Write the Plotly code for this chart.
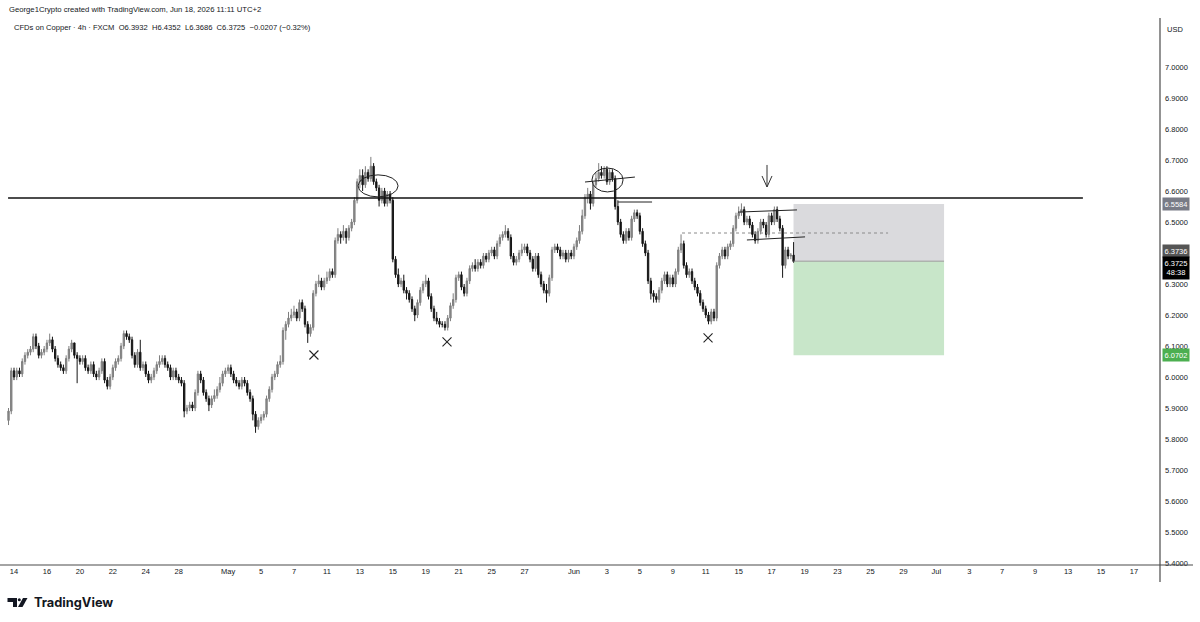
import plotly.graph_objects as go

# ---------------- data (4h candles, CFDs on Copper) ----------------
first_open = 5.86
close = [
    5.89, 6.02,
    6.00, 6.02, 6.01, 6.05, 6.07, 6.08,
    6.09, 6.13, 6.10, 6.07, 6.08, 6.09,
    6.11, 6.12, 6.09, 6.06, 6.04, 6.03,
    6.02, 6.06, 6.09, 6.11, 6.07, 6.06,
    6.05, 6.06, 6.03, 6.02, 6.04, 6.01,
    6.00, 6.02, 6.05, 5.99, 5.97, 6.00,
    6.03, 6.05, 6.06, 6.10, 6.14, 6.13,
    6.12, 6.07, 6.04, 6.08, 6.03, 6.04,
    6.01, 5.99, 6.00, 6.02, 6.04, 6.05,
    6.06, 6.04, 6.03, 6.00, 6.02, 6.00,
    5.99, 5.98, 5.89, 5.90, 5.91, 5.90,
    5.95, 6.01, 5.99, 5.95, 5.93, 5.91,
    5.93, 5.94, 5.96, 5.98, 6.01, 6.02,
    6.03, 6.01, 5.99, 5.98, 5.97, 5.99,
    5.98, 5.95, 5.93, 5.88, 5.84, 5.86,
    5.87, 5.88, 5.93, 5.96, 6.00, 6.01,
    6.04, 6.05, 6.15, 6.17, 6.19, 6.20,
    6.21, 6.19, 6.24, 6.22, 6.17, 6.14,
    6.16, 6.27, 6.30, 6.31, 6.29, 6.31,
    6.32, 6.34, 6.33, 6.44, 6.46, 6.45,
    6.47, 6.45, 6.48, 6.50, 6.57, 6.63,
    6.65, 6.62, 6.66, 6.64, 6.68, 6.63,
    6.61, 6.57, 6.60, 6.56, 6.59, 6.57,
    6.38, 6.33, 6.30, 6.31, 6.28, 6.27,
    6.25, 6.22, 6.20, 6.24, 6.28, 6.30,
    6.31, 6.26, 6.22, 6.19, 6.18, 6.17,
    6.17, 6.16, 6.19, 6.23, 6.25, 6.32,
    6.33, 6.29, 6.27, 6.31, 6.35, 6.36,
    6.35, 6.37, 6.36, 6.39, 6.38, 6.40,
    6.41, 6.39, 6.43, 6.45, 6.46, 6.47,
    6.45, 6.39, 6.37, 6.38, 6.40, 6.41,
    6.42, 6.40, 6.38, 6.35, 6.39, 6.33,
    6.30, 6.28, 6.27, 6.32, 6.41, 6.42,
    6.41, 6.39, 6.40, 6.38, 6.40, 6.39,
    6.42, 6.44, 6.47, 6.52, 6.58, 6.59,
    6.56, 6.62, 6.64, 6.66, 6.65, 6.67,
    6.63, 6.66, 6.64, 6.55, 6.50, 6.46,
    6.44, 6.47, 6.45, 6.51, 6.53, 6.52,
    6.47, 6.43, 6.40, 6.31, 6.27, 6.26,
    6.25, 6.28, 6.31, 6.33, 6.30, 6.32,
    6.30, 6.34, 6.41, 6.43, 6.36, 6.33,
    6.34, 6.31, 6.29, 6.27, 6.24, 6.22,
    6.20, 6.18, 6.21, 6.19, 6.36, 6.39,
    6.41, 6.39, 6.42, 6.43, 6.48, 6.52,
    6.53, 6.54, 6.50, 6.51, 6.49, 6.46,
    6.44, 6.47, 6.50, 6.49, 6.46, 6.52,
    6.50, 6.54, 6.51, 6.48, 6.36, 6.41,
    6.39, 6.3932, 6.3725,
]
high = [
    5.90, 6.03,
    6.03, 6.03, 6.03, 6.06, 6.08, 6.09,
    6.10, 6.14, 6.14, 6.11, 6.09, 6.10,
    6.12, 6.14, 6.13, 6.10, 6.07, 6.05,
    6.04, 6.07, 6.10, 6.12, 6.11, 6.08,
    6.07, 6.07, 6.07, 6.04, 6.05, 6.05,
    6.02, 6.03, 6.06, 6.06, 6.00, 6.01,
    6.04, 6.06, 6.07, 6.11, 6.15, 6.15,
    6.14, 6.13, 6.08, 6.09, 6.12, 6.05,
    6.05, 6.02, 6.01, 6.03, 6.05, 6.07,
    6.07, 6.07, 6.05, 6.04, 6.03, 6.03,
    6.01, 6.00, 5.99, 5.91, 5.92, 5.92,
    5.96, 6.02, 6.02, 6.00, 5.96, 5.94,
    5.94, 5.96, 5.97, 6.00, 6.02, 6.03,
    6.04, 6.04, 6.02, 6.00, 5.99, 6.00,
    6.00, 5.99, 5.96, 5.94, 5.89, 5.87,
    5.88, 5.89, 5.94, 5.97, 6.01, 6.02,
    6.05, 6.07, 6.16, 6.18, 6.21, 6.22,
    6.23, 6.22, 6.25, 6.25, 6.23, 6.18,
    6.17, 6.28, 6.31, 6.33, 6.32, 6.32,
    6.34, 6.35, 6.35, 6.45, 6.48, 6.47,
    6.49, 6.48, 6.49, 6.51, 6.58, 6.64,
    6.67, 6.67, 6.68, 6.67, 6.71, 6.69,
    6.64, 6.62, 6.61, 6.61, 6.60, 6.60,
    6.58, 6.39, 6.35, 6.32, 6.33, 6.29,
    6.28, 6.26, 6.23, 6.25, 6.29, 6.31,
    6.33, 6.32, 6.27, 6.23, 6.21, 6.19,
    6.18, 6.18, 6.20, 6.24, 6.27, 6.33,
    6.34, 6.34, 6.30, 6.32, 6.36, 6.37,
    6.38, 6.38, 6.38, 6.40, 6.40, 6.41,
    6.42, 6.42, 6.44, 6.46, 6.47, 6.49,
    6.48, 6.46, 6.40, 6.39, 6.41, 6.43,
    6.43, 6.43, 6.41, 6.39, 6.40, 6.40,
    6.34, 6.31, 6.30, 6.33, 6.42, 6.43,
    6.43, 6.42, 6.41, 6.41, 6.41, 6.41,
    6.43, 6.45, 6.49, 6.54, 6.59, 6.61,
    6.60, 6.63, 6.66, 6.69, 6.68, 6.68,
    6.68, 6.67, 6.67, 6.65, 6.57, 6.51,
    6.47, 6.48, 6.48, 6.52, 6.54, 6.54,
    6.53, 6.48, 6.44, 6.41, 6.32, 6.28,
    6.27, 6.29, 6.32, 6.34, 6.34, 6.33,
    6.33, 6.35, 6.42, 6.46, 6.44, 6.37,
    6.35, 6.35, 6.32, 6.30, 6.28, 6.25,
    6.23, 6.21, 6.22, 6.22, 6.37, 6.40,
    6.42, 6.42, 6.43, 6.44, 6.49, 6.53,
    6.55, 6.56, 6.55, 6.52, 6.52, 6.50,
    6.47, 6.48, 6.51, 6.51, 6.50, 6.53,
    6.53, 6.55, 6.55, 6.52, 6.49, 6.42,
    6.42, 6.40, 6.4352,
]
low = [
    5.845, 5.88,
    5.99, 5.99, 6.00, 6.00, 6.04, 6.06,
    6.07, 6.08, 6.09, 6.06, 6.06, 6.07,
    6.08, 6.10, 6.08, 6.05, 6.03, 6.02,
    6.01, 6.01, 6.05, 6.08, 6.06, 5.98,
    6.04, 6.04, 6.02, 6.01, 6.01, 6.00,
    5.99, 5.99, 6.01, 5.98, 5.96, 5.96,
    5.99, 6.02, 6.04, 6.05, 6.09, 6.12,
    6.11, 6.06, 6.03, 6.03, 6.02, 6.02,
    6.00, 5.98, 5.98, 5.99, 6.01, 6.03,
    6.04, 6.03, 6.02, 5.99, 5.99, 5.99,
    5.98, 5.97, 5.87, 5.88, 5.89, 5.89,
    5.89, 5.94, 5.98, 5.94, 5.92, 5.89,
    5.90, 5.92, 5.93, 5.95, 5.97, 6.00,
    6.01, 6.00, 5.98, 5.97, 5.96, 5.96,
    5.97, 5.94, 5.92, 5.86, 5.82, 5.83,
    5.85, 5.86, 5.87, 5.92, 5.95, 5.99,
    6.00, 6.03, 6.04, 6.12, 6.16, 6.18,
    6.19, 6.18, 6.18, 6.21, 6.16, 6.11,
    6.13, 6.15, 6.26, 6.29, 6.28, 6.28,
    6.30, 6.31, 6.32, 6.32, 6.43, 6.43,
    6.44, 6.43, 6.44, 6.47, 6.49, 6.56,
    6.61, 6.60, 6.61, 6.63, 6.63, 6.62,
    6.60, 6.55, 6.56, 6.55, 6.55, 6.56,
    6.37, 6.32, 6.29, 6.29, 6.27, 6.25,
    6.24, 6.21, 6.18, 6.19, 6.23, 6.27,
    6.29, 6.25, 6.21, 6.18, 6.17, 6.16,
    6.16, 6.15, 6.15, 6.18, 6.22, 6.24,
    6.31, 6.28, 6.26, 6.26, 6.30, 6.34,
    6.34, 6.34, 6.35, 6.35, 6.37, 6.37,
    6.39, 6.38, 6.38, 6.42, 6.44, 6.45,
    6.44, 6.38, 6.36, 6.36, 6.37, 6.39,
    6.40, 6.39, 6.37, 6.34, 6.34, 6.32,
    6.29, 6.27, 6.24, 6.26, 6.31, 6.40,
    6.40, 6.38, 6.38, 6.37, 6.37, 6.38,
    6.38, 6.41, 6.43, 6.46, 6.51, 6.56,
    6.54, 6.55, 6.61, 6.63, 6.64, 6.64,
    6.62, 6.62, 6.63, 6.54, 6.49, 6.45,
    6.43, 6.43, 6.44, 6.44, 6.50, 6.51,
    6.46, 6.42, 6.39, 6.30, 6.25, 6.24,
    6.24, 6.24, 6.27, 6.30, 6.29, 6.29,
    6.29, 6.29, 6.33, 6.40, 6.35, 6.32,
    6.32, 6.30, 6.28, 6.26, 6.23, 6.21,
    6.19, 6.17, 6.17, 6.18, 6.18, 6.35,
    6.38, 6.38, 6.38, 6.41, 6.42, 6.47,
    6.51, 6.52, 6.49, 6.49, 6.48, 6.45,
    6.43, 6.43, 6.46, 6.48, 6.45, 6.45,
    6.49, 6.49, 6.50, 6.47, 6.32, 6.35,
    6.38, 6.38, 6.3686,
]
bars_per_day = 6
first_bar_offset = 2  # two bars of Apr 13 before Apr 14 00:00

# x-axis labels (trading-day index from Apr 14)
tick_days = [0, 2, 4, 6, 8, 10, 13, 15, 17, 19, 21, 23, 25, 27, 29, 31, 34, 36, 38,
             40, 42, 44, 46, 48, 50, 52, 54, 56, 58, 60, 62, 64, 66, 68]
tick_text = ["14", "16", "20", "22", "24", "28", "May", "5", "7", "11", "13", "15", "19",
             "21", "25", "27", "Jun", "3", "5", "9", "11", "15", "17", "19", "23", "25",
             "29", "Jul", "3", "7", "9", "13", "15", "17"]
price_ticks = [7.0, 6.9, 6.8, 6.7, 6.6, 6.5, 6.3, 6.2, 6.1, 6.0, 5.9, 5.8, 5.7, 5.6, 5.5, 5.4]

# drawings
resistance = 6.5774
resistance_span = [-0.36, 64.9]
entry, stop, target = 6.3736, 6.5584, 6.0702
last_price = 6.3725
position_span = [47.33, 56.47]
dotted_level = 6.4645
dotted_span = [40.56, 53.07]
ellipses = [  # x0, x1, y0, y1
    (20.89, 23.32, 6.581, 6.652),
    (35.09, 36.98, 6.597, 6.674),
]
trend_lines = [  # x0, y0, x1, y1
    (34.67, 6.629, 37.70, 6.645),
    (36.67, 6.5645, 38.74, 6.5645),
    (43.96, 6.532, 47.54, 6.539),
    (44.50, 6.442, 48.03, 6.452),
]
arrow_x, arrow_top, arrow_tip = 45.72, 6.684, 6.613
x_mark_days = [18.21, 26.29, 42.14]
x_mark_prices = [6.071, 6.113, 6.126]

# ---------------- figure ----------------
n = min(len(close), len(high), len(low))
close, high, low = close[:n], high[:n], low[:n]
opn = [first_open] + close[:-1]
xs = [(i - first_bar_offset) / bars_per_day for i in range(n)]

W, H = 1200, 622
PL, PR, PT, PB = 0, 1160, 18, 565  # plot area in pixels
x_range = [(PL - 14) / 16.47, (PR - 14) / 16.47]
y_range = [7.0 - (PB - 67) / 310.0, 7.0 - (PT - 67) / 310.0]


def px(x):
    return (x - PL) / (PR - PL)


def py(y):
    return (PB - y) / (PB - PT)


FONT = "Liberation Sans"
TXT = "#131722"

fig = go.Figure()
fig.add_trace(go.Candlestick(
    x=xs, open=opn, high=high, low=low, close=close,
    increasing=dict(line=dict(color="#7e7e7e", width=1), fillcolor="#8c8c8c"),
    decreasing=dict(line=dict(color="#151515", width=1), fillcolor="#151515"),
    whiskerwidth=0, showlegend=False, hoverinfo="skip",
))
fig.add_trace(go.Scatter(
    x=x_mark_days, y=x_mark_prices, mode="markers",
    marker=dict(symbol="x-thin", size=9, line=dict(color="#222222", width=1.1)),
    showlegend=False, hoverinfo="skip",
))

shapes = []
# position tool
shapes.append(dict(type="rect", xref="x", yref="y", x0=position_span[0], x1=position_span[1],
                   y0=entry, y1=stop, fillcolor="#dadadd", line=dict(width=0), layer="below"))
shapes.append(dict(type="rect", xref="x", yref="y", x0=position_span[0], x1=position_span[1],
                   y0=target, y1=entry, fillcolor="#c8e6c9", line=dict(width=0), layer="below"))
shapes.append(dict(type="line", xref="x", yref="y", x0=position_span[0], x1=position_span[1],
                   y0=entry, y1=entry, line=dict(color="#9a9a9a", width=1)))
# resistance
shapes.append(dict(type="line", xref="x", yref="y", x0=resistance_span[0], x1=resistance_span[1],
                   y0=resistance, y1=resistance, line=dict(color="#111111", width=1.6)))
# dotted
shapes.append(dict(type="line", xref="x", yref="y", x0=dotted_span[0], x1=dotted_span[1],
                   y0=dotted_level, y1=dotted_level, line=dict(color="#8a8a8a", width=1, dash="dot")))
for (x0, x1, y0, y1) in ellipses:
    shapes.append(dict(type="circle", xref="x", yref="y", x0=x0, x1=x1, y0=y0, y1=y1,
                       line=dict(color="#222222", width=1)))
for (x0, y0, x1, y1) in trend_lines:
    shapes.append(dict(type="line", xref="x", yref="y", x0=x0, y0=y0, x1=x1, y1=y1,
                       line=dict(color="#222222", width=1)))
# arrow
ah_dx, ah_dy = 5 / 16.47, 11 / 310.0
shapes.append(dict(type="line", xref="x", yref="y", x0=arrow_x, x1=arrow_x, y0=arrow_top, y1=arrow_tip,
                   line=dict(color="#333333", width=1)))
shapes.append(dict(type="path", xref="x", yref="y",
                   path=f"M {arrow_x - ah_dx},{arrow_tip + ah_dy} L {arrow_x},{arrow_tip} L {arrow_x + ah_dx},{arrow_tip + ah_dy}",
                   line=dict(color="#333333", width=1)))
# pane borders
shapes.append(dict(type="line", xref="paper", yref="paper", x0=0, x1=px(1193), y0=0, y1=0,
                   line=dict(color="#4a4a4a", width=1.2)))
shapes.append(dict(type="line", xref="paper", yref="paper", x0=1, x1=1, y0=py(582), y1=1,
                   line=dict(color="#4a4a4a", width=1.2)))
# TradingView logo icon
shapes.append(dict(type="path", xref="paper", yref="paper",
                   path=(f"M {px(7.5)},{py(598)} L {px(17)},{py(598)} L {px(17)},{py(607)} L {px(13)},{py(607)} "
                         f"L {px(13)},{py(602)} L {px(7.5)},{py(602)} Z"),
                   fillcolor="#131722", line=dict(width=0)))
shapes.append(dict(type="circle", xref="paper", yref="paper", x0=px(17.8), x1=px(20.8), y0=py(601.2), y1=py(598.2),
                   fillcolor="#131722", line=dict(width=0)))
shapes.append(dict(type="path", xref="paper", yref="paper",
                   path=f"M {px(18)},{py(607)} L {px(23)},{py(598)} L {px(27.5)},{py(598)} L {px(22.5)},{py(607)} Z",
                   fillcolor="#131722", line=dict(width=0)))

annotations = [
    dict(xref="paper", yref="paper", x=px(7), y=py(10), xanchor="left", yanchor="middle", showarrow=False,
         text="George1Crypto created with TradingView.com, Jun 18, 2026 11:11 UTC+2",
         font=dict(family=FONT, size=7.7, color=TXT)),
    dict(xref="paper", yref="paper", x=px(12), y=py(27), xanchor="left", yanchor="middle", showarrow=False,
         text="CFDs on Copper · 4h · FXCM  O6.3932  H6.4352  L6.3686  C6.3725  −0.0207 (−0.32%)",
         font=dict(family=FONT, size=7.6, color=TXT)),
    dict(xref="paper", yref="paper", x=px(1175), y=py(29), xanchor="center", yanchor="middle", showarrow=False,
         text="USD", font=dict(family=FONT, size=7.5, color=TXT)),
    dict(xref="paper", yref="paper", x=px(32), y=py(602.5), xanchor="left", yanchor="middle", showarrow=False,
         text="<b>TradingView</b>", font=dict(family="Inter", size=12.8, color="#131722")),
]
labels = [
    (stop, "6.5584", "#787b86", 0),
    (entry, "6.3736", "#555555", 10),
    (last_price, "6.3725<br>48:38", "#000000", -6),
    (target, "6.0702", "#4caf50", 0),
]
for (yv, txt, bg, ys) in labels:
    annotations.append(dict(xref="paper", yref="y", x=1, y=yv, xanchor="left", yanchor="middle",
                            xshift=2, yshift=ys, showarrow=False, text=txt, bgcolor=bg, borderpad=1.5,
                            font=dict(family=FONT, size=7.5, color="#ffffff")))

fig.update_layout(
    width=W, height=H,
    margin=dict(l=PL, r=W - PR, t=PT, b=H - PB, pad=0),
    paper_bgcolor="#ffffff", plot_bgcolor="#ffffff",
    shapes=shapes, annotations=annotations,
    showlegend=False,
    xaxis=dict(range=x_range, showgrid=False, zeroline=False, showline=False,
               tickmode="array", tickvals=tick_days, ticktext=tick_text, ticks="",
               tickfont=dict(family=FONT, size=7.5, color=TXT), rangeslider=dict(visible=False),
               automargin=False, fixedrange=True),
    yaxis=dict(range=y_range, side="right", showgrid=False, zeroline=False, showline=False,
               tickmode="array", tickvals=price_ticks, ticktext=[f"{v:.4f}" for v in price_ticks],
               ticks="", tickfont=dict(family=FONT, size=7.5, color=TXT), automargin=False,
               ticklabelstandoff=4, fixedrange=True),
)

fig.write_html("out.html", config={"displayModeBar": False})
